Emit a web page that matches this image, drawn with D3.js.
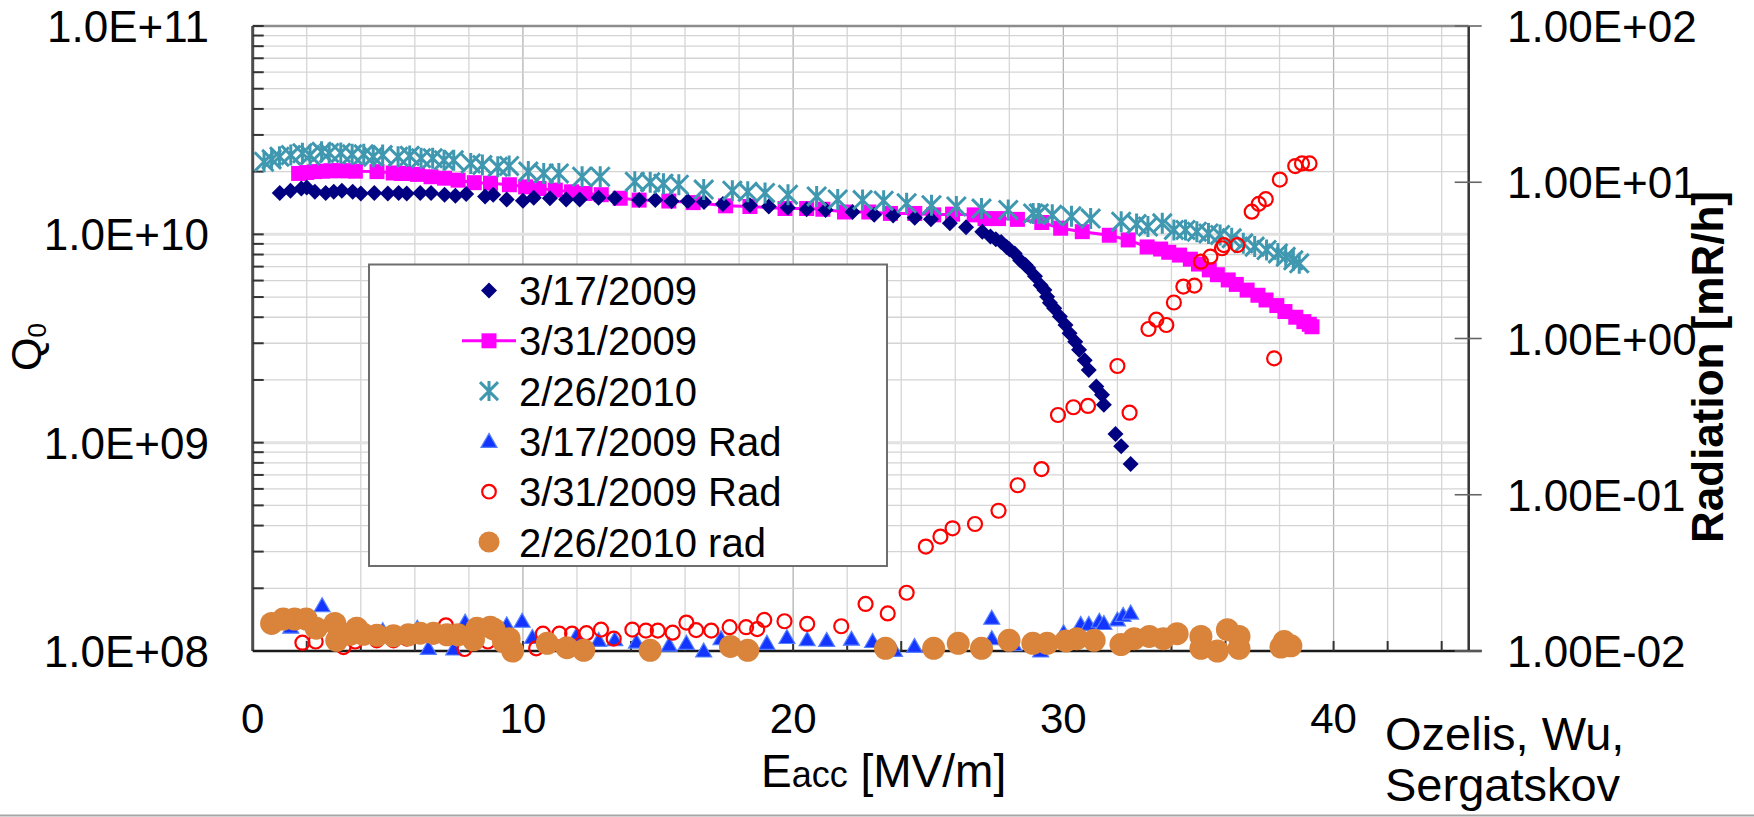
<!DOCTYPE html>
<html>
<head>
<meta charset="utf-8">
<script src="https://cdnjs.cloudflare.com/ajax/libs/d3/7.8.5/d3.min.js"></script>
<style>
  body { margin: 0; background: #fff; }
  svg text { font-family: "Liberation Sans", Arial, Helvetica, sans-serif; fill: #000; }
</style>
</head>
<body>
<svg id="chart" width="1754" height="817"></svg>
<script>
// Q0 series, [Eacc MV/m, Q0]
const q0_0317 = [
  [1.0,1.58e10],[1.4,1.62e10],[1.8,1.66e10],[2.0,1.68e10],[2.3,1.60e10],[2.7,1.58e10],[3.0,1.60e10],
  [3.3,1.62e10],[3.7,1.60e10],[4.0,1.57e10],[4.5,1.58e10],[5.0,1.57e10],[5.4,1.58e10],[5.7,1.57e10],
  [6.2,1.58e10],[6.6,1.58e10],[7.1,1.55e10],[7.5,1.53e10],[7.9,1.56e10],[8.6,1.52e10],[8.9,1.55e10],
  [9.4,1.47e10],[10.0,1.45e10],[10.4,1.50e10],[11.0,1.49e10],[11.6,1.47e10],[12.1,1.47e10],[12.8,1.50e10],
  [13.4,1.49e10],[14.3,1.46e10],[14.9,1.46e10],[15.5,1.44e10],[16.1,1.44e10],[16.7,1.43e10],[17.4,1.40e10],
  [18.4,1.38e10],[19.1,1.36e10],[19.8,1.34e10],[20.5,1.32e10],[21.2,1.31e10],[22.2,1.28e10],[23.0,1.24e10],
  [23.7,1.23e10],[24.5,1.20e10],[25.1,1.18e10],[25.8,1.13e10],[26.4,1.08e10],[27.0,1.03e10],[27.3,9.75e9],
  [27.5,9.46e9],[27.7,9.2e9],[27.9,8.7e9],[28.0,8.48e9],[28.2,8.1e9],[28.4,7.5e9],[28.6,7.13e9],
  [28.7,6.9e9],[28.95,6.3e9],[29.16,5.7e9],[29.3,5.41e9],[29.4,5.02e9],[29.5,4.7e9],[29.66,4.42e9],
  [29.87,4.03e9],[30.08,3.67e9],[30.23,3.35e9],[30.44,3.05e9],[30.58,2.79e9],[30.79,2.49e9],[30.94,2.23e9],
  [31.22,1.86e9],[31.43,1.70e9],[31.5,1.52e9],[31.93,1.10e9],[32.14,9.6e8],[32.49,7.9e8]
];
const q0_0331 = [
  [1.7,1.96e10],[2.0,1.98e10],[2.3,2.0e10],[2.6,2.01e10],[2.9,2.02e10],[3.2,2.02e10],[3.5,2.02e10],
  [3.8,2.01e10],[4.6,2.0e10],[5.2,1.97e10],[5.5,1.96e10],[5.7,1.96e10],[6.1,1.94e10],[6.6,1.89e10],
  [7.1,1.86e10],[7.6,1.82e10],[8.2,1.77e10],[8.8,1.76e10],[9.5,1.73e10],[10.1,1.69e10],[10.6,1.66e10],
  [11.2,1.63e10],[11.8,1.60e10],[12.3,1.57e10],[12.9,1.55e10],[13.6,1.49e10],[14.3,1.46e10],[15.4,1.445e10],
  [16.3,1.42e10],[17.5,1.37e10],[18.4,1.36e10],[19.7,1.33e10],[20.5,1.33e10],[21.1,1.32e10],[21.9,1.28e10],
  [22.8,1.28e10],[23.6,1.26e10],[24.5,1.26e10],[25.2,1.24e10],[25.9,1.25e10],[26.7,1.24e10],[27.1,1.19e10],
  [27.6,1.19e10],[28.3,1.18e10],[29.2,1.14e10],[29.9,1.07e10],[30.7,1.03e10],[31.7,9.9e9],[32.4,9.4e9],
  [33.1,8.7e9],[33.6,8.5e9],[33.9,8.2e9],[34.3,7.95e9],[34.7,7.6e9],[35.0,7.2e9],[35.4,6.75e9],
  [35.7,6.4e9],[36.1,6.04e9],[36.4,5.75e9],[36.8,5.4e9],[37.2,5.1e9],[37.5,4.84e9],[37.9,4.55e9],
  [38.2,4.26e9],[38.6,4.0e9],[38.9,3.81e9],[39.1,3.7e9],[39.2,3.6e9]
];
const q0_1002 = [
  [0.42,2.23e10],[0.7,2.29e10],[0.99,2.36e10],[1.41,2.4e10],[1.84,2.45e10],[2.12,2.4e10],[2.55,2.49e10],
  [2.83,2.46e10],[3.26,2.46e10],[3.68,2.42e10],[4.11,2.42e10],[4.46,2.36e10],[4.81,2.4e10],[5.38,2.36e10],
  [5.81,2.38e10],[6.23,2.32e10],[6.66,2.32e10],[7.08,2.27e10],[7.44,2.27e10],[8.07,2.19e10],[8.5,2.15e10],
  [9.07,2.11e10],[9.49,2.13e10],[10.2,2.0e10],[10.77,1.96e10],[11.33,1.96e10],[12.19,1.89e10],[12.86,1.89e10],
  [14.14,1.79e10],[14.71,1.78e10],[15.2,1.75e10],[15.77,1.73e10],[16.69,1.64e10],[17.75,1.62e10],[18.32,1.6e10],
  [18.96,1.58e10],[19.81,1.55e10],[20.87,1.52e10],[21.65,1.47e10],[22.57,1.46e10],[23.35,1.45e10],[24.2,1.41e10],
  [25.12,1.38e10],[26.04,1.36e10],[26.97,1.33e10],[27.96,1.31e10],[28.88,1.26e10],[29.09,1.26e10],[29.59,1.24e10],
  [30.3,1.22e10],[31.01,1.19e10],[32.14,1.15e10],[32.71,1.12e10],[33.13,1.09e10],[33.66,1.13e10],[34.09,1.05e10],
  [34.52,1.05e10],[34.94,1.03e10],[35.37,1.01e10],[35.8,9.93e9],[36.23,9.57e9],[36.66,9.06e9],[37.08,8.73e9],
  [37.52,8.41e9],[37.94,8.1e9],[38.23,7.8e9],[38.51,7.5e9],[38.73,7.26e9]
];

// Radiation series, [Eacc MV/m, mR/h]
const rad_0317 = [
  [1.41,0.0142],[2.57,0.0195],[4.81,0.0135],[6.09,0.0140],[6.5,0.0104],[7.44,0.0103],[7.86,0.0153],
  [9.4,0.0147],[9.97,0.0155],[10.35,0.0122],[11.98,0.0125],[12.8,0.0117],[13.4,0.0118],[14.2,0.0114],
  [15.41,0.0109],[16.05,0.0112],[16.69,0.0100],[17.33,0.0120],[19.03,0.0112],[19.77,0.0122],[20.52,0.0118],
  [21.24,0.0117],[22.16,0.0119],[22.94,0.0115],[23.75,0.0101],[24.49,0.0107],[27.35,0.0162],[27.35,0.0120],
  [28.17,0.0110],[29.16,0.0100],[30.01,0.0131],[30.64,0.0148],[30.94,0.0148],[31.33,0.0155],[31.5,0.0150],
  [32.0,0.0158],[32.21,0.0169],[32.49,0.0175]
];
const rad_0331 = [
  [1.84,0.0113],[2.33,0.0115],[3.36,0.0106],[3.79,0.0115],[4.59,0.0117],[5.21,0.0117],[5.7,0.0120],
  [6.69,0.0124],[7.15,0.0146],[7.84,0.0103],[8.7,0.0115],[10.49,0.0104],[10.74,0.0129],[11.35,0.0129],
  [11.82,0.0129],[12.35,0.0130],[12.89,0.0137],[13.36,0.0120],[14.05,0.0137],[14.55,0.0135],[14.99,0.0135],
  [15.54,0.0131],[16.05,0.0152],[16.41,0.0136],[16.97,0.0135],[17.65,0.0142],[18.26,0.0142],[18.67,0.0138],
  [18.93,0.0158],[19.68,0.0155],[20.52,0.0149],[21.78,0.0144],[22.68,0.0200],[23.5,0.0174],[24.2,0.0236],
  [24.91,0.0466],[25.45,0.054],[25.9,0.061],[26.73,0.065],[27.6,0.079],[28.31,0.115],[29.19,0.146],
  [29.8,0.324],[30.37,0.363],[30.91,0.370],[32.0,0.667],[32.45,0.335],[33.15,1.15],[33.44,1.32],
  [33.81,1.22],[34.09,1.70],[34.44,2.15],[34.85,2.18],[35.09,3.10],[35.44,3.34],[35.87,3.78],
  [35.94,3.96],[36.44,3.96],[36.97,6.48],[37.23,7.27],[37.49,7.79],[37.8,0.746],[38.01,10.4],
  [38.58,12.7],[38.83,13.2],[39.11,13.2]
];
const rad_1002 = [
  [0.7,0.0150],[1.13,0.0160],[1.55,0.0160],[1.98,0.0160],[2.35,0.0140],[3.04,0.0150],[3.11,0.0117],
  [3.6,0.0128],[3.85,0.0140],[4.1,0.0128],[4.6,0.0126],[5.21,0.0125],[5.76,0.0127],[6.2,0.0130],
  [6.69,0.0130],[7.19,0.0127],[7.6,0.0127],[8.17,0.0118],[8.3,0.0140],[8.79,0.0142],[8.93,0.0138],
  [9.28,0.0115],[9.49,0.0120],[9.62,0.0100],[10.9,0.0112],[11.63,0.0105],[12.25,0.0101],[14.71,0.0101],
  [17.68,0.0107],[18.32,0.0101],[23.42,0.0104],[25.2,0.0104],[26.11,0.0112],[26.97,0.0104],[27.99,0.0117],
  [28.87,0.0112],[29.4,0.0112],[30.1,0.0116],[30.5,0.0120],[31.14,0.0117],[32.13,0.0110],[32.62,0.0120],
  [33.18,0.0124],[33.7,0.0120],[34.21,0.0129],[35.09,0.0124],[35.09,0.0104],[35.7,0.0100],[36.07,0.0137],
  [36.5,0.0124],[36.5,0.0104],[38.05,0.0106],[38.17,0.0115],[38.42,0.0108]
];

const xTicks = [0, 10, 20, 30, 40];
const qTicks = [1e8, 1e9, 1e10, 1e11];
const qTickLabels = ["1.0E+08", "1.0E+09", "1.0E+10", "1.0E+11"];
const rTicks = [1e-2, 1e-1, 1e0, 1e1, 1e2];
const rTickLabels = ["1.00E-02", "1.00E-01", "1.00E+00", "1.00E+01", "1.00E+02"];
const legendNames = ["3/17/2009", "3/31/2009", "2/26/2010", "3/17/2009 Rad", "3/31/2009 Rad", "2/26/2010 rad"];

const svg = d3.select("#chart");
const plot = {left: 252.7, right: 1468.7, top: 26, bottom: 651};

const x = d3.scaleLinear().domain([0, 45]).range([plot.left, plot.right]);
const yQ = d3.scaleLog().domain([1e8, 1e11]).range([plot.bottom, plot.top]);
const yR = d3.scaleLog().domain([1e-2, 1e2]).range([plot.bottom, plot.top]);

// marker shapes
const diamond = {draw(c, s) { const r = Math.sqrt(s) / 2; c.moveTo(0, -r); c.lineTo(r, 0); c.lineTo(0, r); c.lineTo(-r, 0); c.closePath(); }};
const triangle = {draw(c, s) { const r = Math.sqrt(s) / 2; c.moveTo(0, -r); c.lineTo(r, r * 0.75); c.lineTo(-r, r * 0.75); c.closePath(); }};
const star = {draw(c, s) {
  const r = Math.sqrt(s) / 2;
  c.moveTo(-r * 0.9, -r * 0.9); c.lineTo(r * 0.9, r * 0.9);
  c.moveTo(-r * 0.9, r * 0.9); c.lineTo(r * 0.9, -r * 0.9);
  c.moveTo(0, -r); c.lineTo(0, r);
}};

const styles = {
  q0317: {type: diamond, size: 16 * 16, fill: "#000080", stroke: "none"},
  q0331: {type: d3.symbolSquare, size: 15 * 15, fill: "#ff00ff", stroke: "none"},
  q1002: {type: star, size: 21 * 21, fill: "none", stroke: "#3f98b0", sw: 3},
  r0317: {type: triangle, size: 16 * 16, fill: "#1435ff", stroke: "#5580ff", sw: 1.2},
  r0331: {type: d3.symbolCircle, size: Math.PI * 7 * 7, fill: "none", stroke: "#ff0000", sw: 2.2},
  r1002: {type: d3.symbolCircle, size: Math.PI * 11.5 * 11.5, fill: "#d9833b", stroke: "none"}
};

// background
svg.append("rect").attr("width", 1754).attr("height", 817).attr("fill", "#fff");

// gridlines
const grid = svg.append("g");
d3.range(2, 45, 2).forEach(v => {
  grid.append("line")
    .attr("x1", x(v)).attr("x2", x(v)).attr("y1", plot.top).attr("y2", plot.bottom)
    .attr("stroke", v % 10 === 0 ? "#b3b3b3" : "#d6d6d6").attr("stroke-width", 1.3);
});
const qMinor = yQ.ticks().filter(v => v > 1e8 && v < 1e11);
qMinor.forEach(v => {
  const isDecade = Math.abs(Math.log10(v) - Math.round(Math.log10(v))) < 1e-9;
  grid.append("line")
    .attr("x1", plot.left).attr("x2", plot.right).attr("y1", yQ(v)).attr("y2", yQ(v))
    .attr("stroke", isDecade ? "#e2e2e2" : "#d4d4d4").attr("stroke-width", isDecade ? 3 : 1.3);
});

// frame
svg.append("line").attr("x1", plot.left).attr("x2", plot.right).attr("y1", plot.top).attr("y2", plot.top)
  .attr("stroke", "#8c8c8c").attr("stroke-width", 2.5);
svg.append("line").attr("x1", plot.right).attr("x2", plot.right).attr("y1", plot.top).attr("y2", plot.bottom)
  .attr("stroke", "#333").attr("stroke-width", 2.5);
svg.append("line").attr("x1", plot.left).attr("x2", plot.left).attr("y1", plot.top).attr("y2", plot.bottom)
  .attr("stroke", "#4d4d4d").attr("stroke-width", 3);
svg.append("line").attr("x1", plot.left).attr("x2", plot.right + 13).attr("y1", plot.bottom).attr("y2", plot.bottom)
  .attr("stroke", "#1a1a1a").attr("stroke-width", 2.5);

// ticks
const ticks = svg.append("g").attr("stroke", "#333").attr("stroke-width", 2);
yQ.ticks().filter(v => v > 1e8).forEach(v => {
  ticks.append("line").attr("x1", plot.left).attr("x2", plot.left + 11).attr("y1", yQ(v)).attr("y2", yQ(v));
});
d3.range(2, 45, 2).forEach(v => {
  ticks.append("line").attr("x1", x(v)).attr("x2", x(v)).attr("y1", plot.bottom).attr("y2", plot.bottom - 10);
});
rTicks.forEach(v => {
  ticks.append("line").attr("x1", plot.right - 14).attr("x2", plot.right + 13).attr("y1", yR(v)).attr("y2", yR(v))
    .attr("stroke", "#666").attr("stroke-width", 1.6);
});

// tick labels
svg.append("g").selectAll("text").data(qTicks).join("text")
  .attr("x", 209).attr("y", d => yQ(d) + 16).attr("text-anchor", "end")
  .attr("font-size", 44).text((d, i) => qTickLabels[i]);
svg.append("g").selectAll("text").data(rTicks).join("text")
  .attr("x", 1507).attr("y", d => yR(d) + 16).attr("text-anchor", "start")
  .attr("font-size", 44).text((d, i) => rTickLabels[i]);
svg.append("g").selectAll("text").data(xTicks).join("text")
  .attr("x", d => x(d)).attr("y", 733).attr("text-anchor", "middle")
  .attr("font-size", 42).text(d => d);

// axis titles
const xt = svg.append("text").attr("x", 761).attr("y", 787).attr("font-size", 46);
xt.append("tspan").text("E");
xt.append("tspan").attr("font-size", 36).text("acc");
xt.append("tspan").text(" [MV/m]");

const yt = svg.append("text").attr("transform", "translate(41,371) rotate(-90)").attr("font-size", 43);
yt.append("tspan").text("Q");
yt.append("tspan").attr("font-size", 26).attr("dy", 5).text("0");

svg.append("text").attr("transform", "translate(1723,367) rotate(-90)")
  .attr("text-anchor", "middle").attr("font-size", 44).attr("font-weight", "bold")
  .text("Radiation [mR/h]");

svg.append("text").attr("x", 1385).attr("y", 750).attr("font-size", 47).text("Ozelis, Wu,");
svg.append("text").attr("x", 1385).attr("y", 801).attr("font-size", 47).text("Sergatskov");

// bottom border of the chart area
svg.append("line").attr("x1", 0).attr("x2", 1754).attr("y1", 815.5).attr("y2", 815.5)
  .attr("stroke", "#a6a6a6").attr("stroke-width", 2);

// series
function drawSeries(data, yScale, st) {
  svg.append("g").selectAll("path").data(data).join("path")
    .attr("transform", d => `translate(${x(d[0])},${yScale(d[1])})`)
    .attr("d", d3.symbol().type(st.type).size(st.size))
    .attr("fill", st.fill).attr("stroke", st.stroke).attr("stroke-width", st.sw || 0);
}

svg.append("path").datum(q0_0331)
  .attr("d", d3.line().x(d => x(d[0])).y(d => yQ(d[1])))
  .attr("fill", "none").attr("stroke", "#ff00ff").attr("stroke-width", 3);
drawSeries(q0_0331, yQ, styles.q0331);
drawSeries(q0_0317, yQ, styles.q0317);
drawSeries(q0_1002, yQ, styles.q1002);
drawSeries(rad_0317, yR, styles.r0317);
drawSeries(rad_0331, yR, styles.r0331);
drawSeries(rad_1002, yR, styles.r1002);

// legend
const lg = svg.append("g");
lg.append("rect").attr("x", 369).attr("y", 264.5).attr("width", 518).attr("height", 301.5)
  .attr("fill", "#fff").attr("stroke", "#6e6e6e").attr("stroke-width", 2);
const legendStyles = [
  {...styles.q0317, size: 16 * 16},
  {...styles.q0331, size: 15 * 15},
  {...styles.q1002, size: 20 * 20},
  {...styles.r0317, size: 16 * 16},
  {...styles.r0331, size: Math.PI * 6.8 * 6.8},
  {...styles.r1002, size: Math.PI * 10.5 * 10.5}
];
legendNames.forEach((name, i) => {
  const cy = 290.5 + i * 50.3;
  if (i === 1) {
    lg.append("line").attr("x1", 462).attr("x2", 516).attr("y1", cy).attr("y2", cy)
      .attr("stroke", "#ff00ff").attr("stroke-width", 3);
  }
  const st = legendStyles[i];
  lg.append("path").attr("transform", `translate(489,${cy})`)
    .attr("d", d3.symbol().type(st.type).size(st.size)())
    .attr("fill", st.fill).attr("stroke", st.stroke).attr("stroke-width", st.sw || 0);
  lg.append("text").attr("x", 519).attr("y", cy + 14.5).attr("font-size", 40).text(name);
});
</script>
</body>
</html>
